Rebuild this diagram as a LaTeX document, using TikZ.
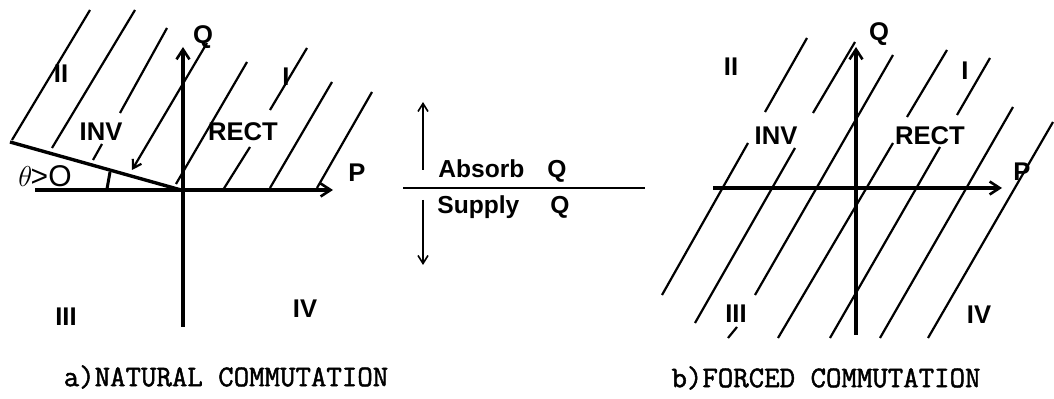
\documentclass[tikz,border=0pt]{standalone}
\usepackage{fontspec}
\setmainfont{Liberation Sans}
\newfontfamily\capfont[FakeBold=1.6]{Latin Modern Mono}
\usetikzlibrary{arrows.meta}
\begin{document}
\begin{tikzpicture}[x=0.5pt,y=-0.5pt,
  axis/.style={line width=1.6pt,-{Straight Barb[length=5pt,width=6.5pt,line width=1.3pt]}},
  hatch/.style={line width=1.1pt},
  thinline/.style={line width=0.8pt},
  lbl/.style={font=\fontsize{12.8}{14}\selectfont\bfseries,inner sep=0pt},
  midlbl/.style={font=\fontsize{12.3}{14}\selectfont\bfseries,inner sep=0pt,anchor=base west},
  caplbl/.style={font=\capfont\fontsize{15}{17}\selectfont,inner sep=0pt}]
\useasboundingbox (0,0) rectangle (1054,399);
% ---------- left diagram ----------
\coordinate (O1) at (181,190);
\coordinate (P1s) at (35,190);  \coordinate (P1e) at (333,190);
\coordinate (Q1s) at (183,327); \coordinate (Q1e) at (183,47);
\coordinate (S1) at (10,142);
\draw[axis] (P1s) -- (P1e);
\draw[axis] (Q1s) -- (Q1e);
\draw[line width=1.7pt] (S1) -- (O1);
\draw[line width=1.5pt] (107,189) -- (110,172);
% hatch lines
\draw[hatch] (12,140) -- (90,10);
\draw[hatch] (52,148) -- (135,10);
\draw[hatch] (93,160) -- (102,144);
\draw[hatch] (120,113) -- (167,28);
\draw[hatch,{Straight Barb[length=4pt,width=5pt]}-] (132,170) -- (207,43);
\draw[hatch] (176,184) -- (247,62);
\draw[hatch] (223,190) -- (250,147);
\draw[hatch] (270,110) -- (307,48);
\draw[hatch] (270,188) -- (332,82);
\draw[hatch] (317,188) -- (372,92);
% labels
\node[lbl] (II1) at (61,74) {II};
\node[lbl] (INV1) at (101,132) {INV};
\node[lbl] (RECT1) at (243,132) {RECT};
\node[lbl] (I1) at (286,77) {I};
\node[lbl] (Q1) at (203,37) {Q};
\node[lbl] (P1) at (357,173) {P};
\node[lbl] (III1) at (66,317) {III};
\node[lbl] (IV1) at (305,309) {IV};
\node[inner sep=0pt,font=\fontsize{15}{17}\selectfont] (TH) at (45,176) {$\theta\mkern-1mu$>O};
\node[caplbl] (CA) at (226,377) {a)NATURAL COMMUTATION};
% ---------- middle ----------
\coordinate (Ua) at (423,170); \coordinate (Ub) at (423,102);
\coordinate (Da) at (423,200); \coordinate (Db) at (423,265);
\coordinate (Ha) at (403,188); \coordinate (Hb) at (645,188);
\draw[thinline,-{Straight Barb[length=4pt,width=5pt]}] (Ua) -- (Ub);
\draw[thinline] (Ha) -- (Hb);
\draw[thinline,-{Straight Barb[length=4pt,width=5pt]}] (Da) -- (Db);
\node[midlbl] (AB) at (438,178) {Absorb};
\node[midlbl] (ABQ) at (547,178) {Q};
\node[midlbl] (SU) at (437,214) {Supply};
\node[midlbl] (SUQ) at (550,214) {Q};
% ---------- right diagram ----------
\coordinate (P2s) at (713,188); \coordinate (P2e) at (1002,188);
\coordinate (Q2s) at (856,335); \coordinate (Q2e) at (856,47);
\draw[axis] (P2s) -- (P2e);
\draw[axis] (Q2s) -- (Q2e);
\draw[hatch] (662,295) -- (748,143);
\draw[hatch] (765,112) -- (807,38);
\draw[hatch] (695,323) -- (795,148);
\draw[hatch] (813,113) -- (855,42);
\draw[hatch] (728,338) -- (737,327);
\draw[hatch] (755,295) -- (893,55);
\draw[hatch] (778,338) -- (893,143);
\draw[hatch] (907,117) -- (947,50);
\draw[hatch] (830,338) -- (940,147);
\draw[hatch] (957,115) -- (990,58);
\draw[hatch] (880,338) -- (1013,107);
\draw[hatch] (928,338) -- (1053,122);
\node[lbl] (Q2) at (879,34) {Q};
\node[lbl] (P2) at (1022,172) {P};
\node[lbl] (II2) at (731,67) {II};
\node[lbl] (INV2) at (776,136) {INV};
\node[lbl] (RECT2) at (930,136) {RECT};
\node[lbl] (I2) at (965,71) {I};
\node[lbl] (III2) at (736,314) {III};
\node[lbl] (IV2) at (979,315) {IV};
\node[caplbl] (CB) at (826,378) {b)FORCED COMMUTATION};
\end{tikzpicture}
\end{document}
